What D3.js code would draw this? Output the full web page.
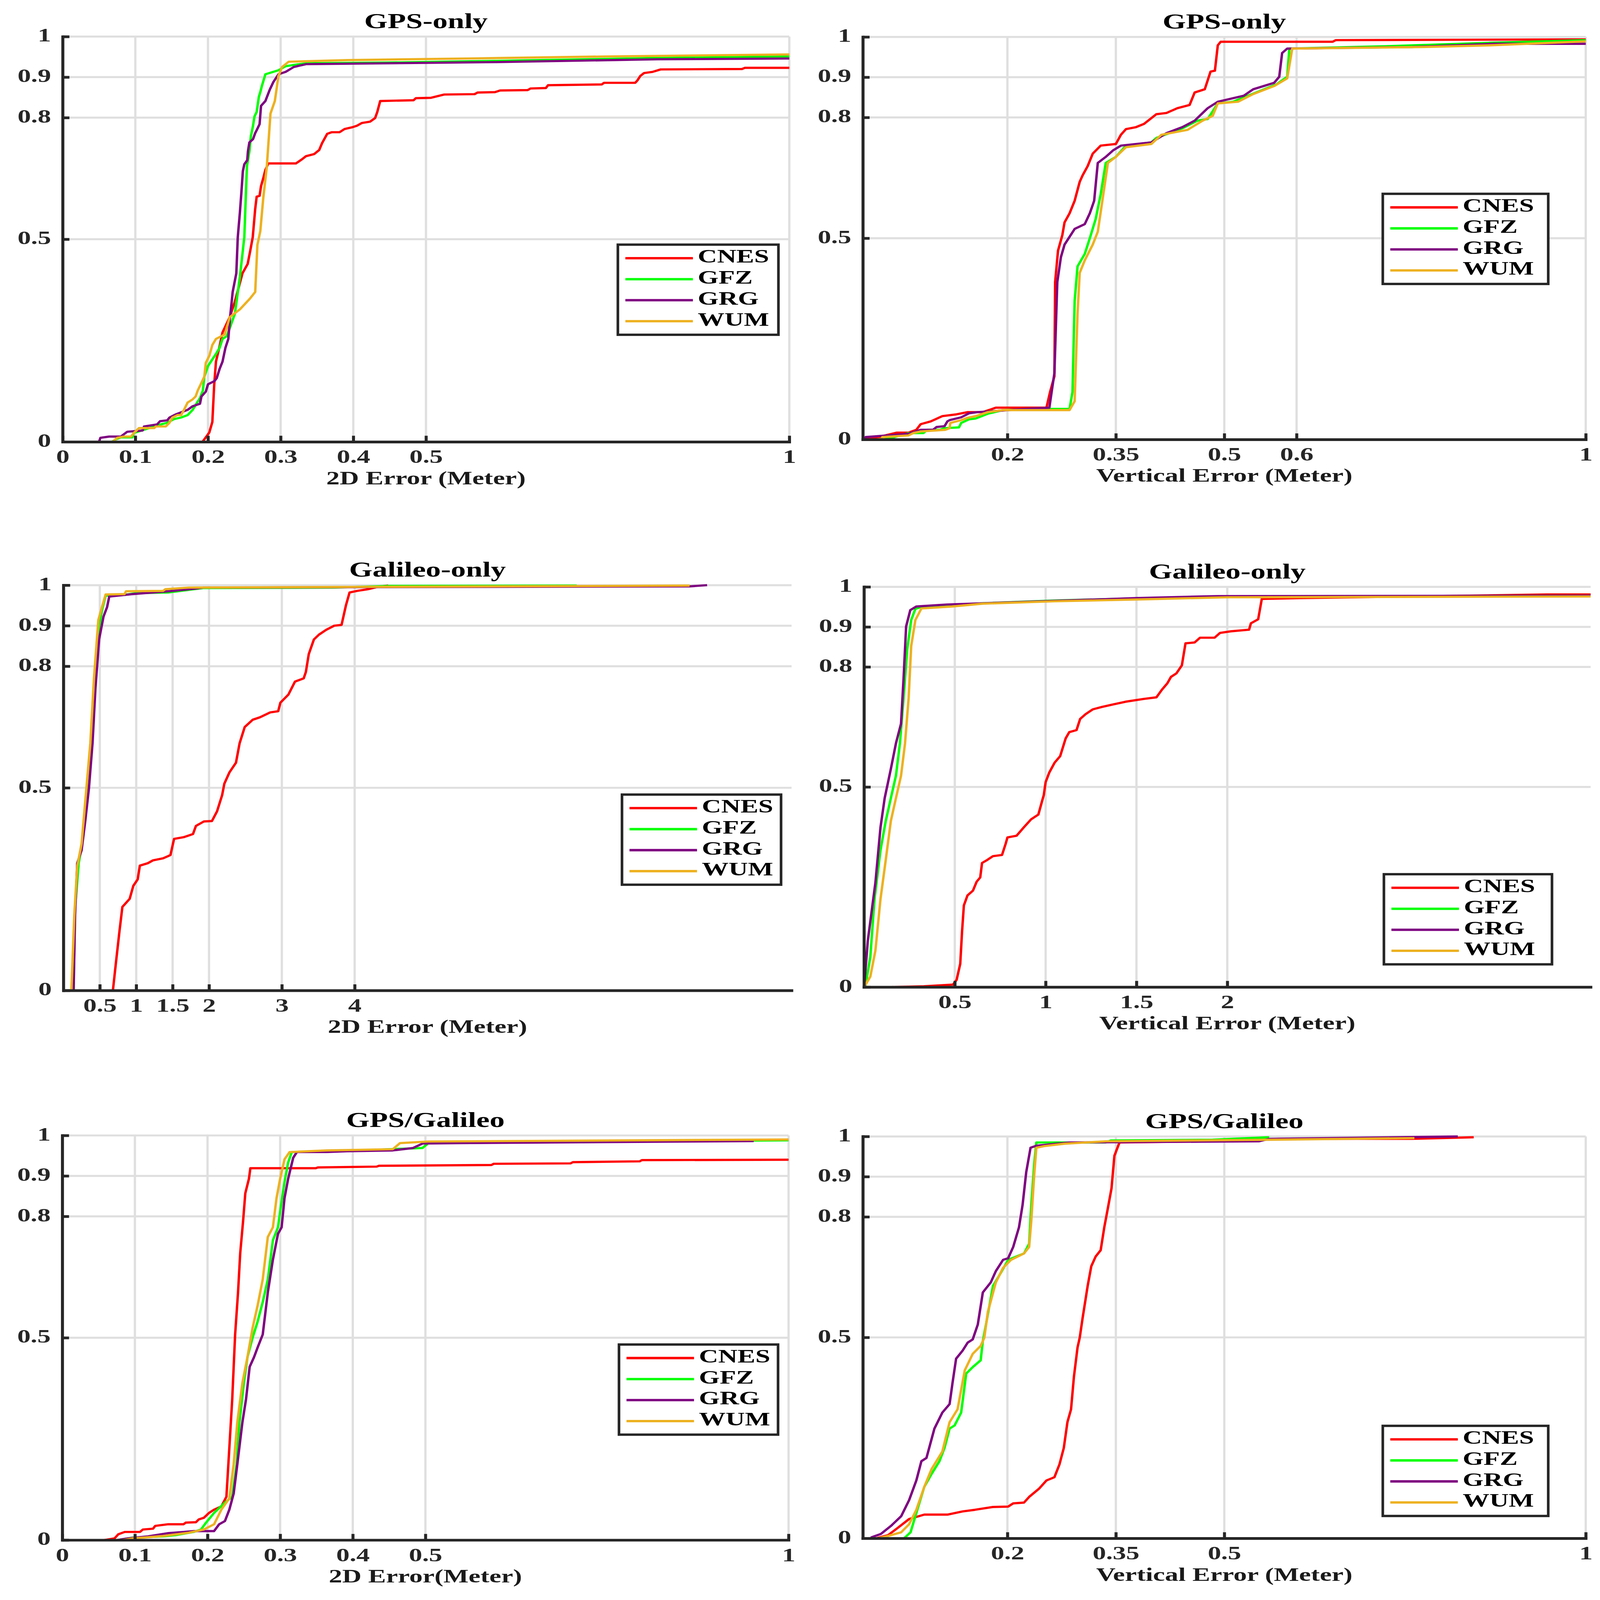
<!DOCTYPE html>
<html>
<head>
<meta charset="utf-8">
<script src="https://cdn.jsdelivr.net/npm/d3@7"></script>
<style>
  html, body { margin: 0; padding: 0; background: #ffffff; width: 100%; height: 100%; overflow: hidden; }
  svg { display: block; width: 100vw; height: 100vh; }
</style>
</head>
<body>
<svg id="chart" viewBox="0 0 4265 4722" preserveAspectRatio="none"></svg>
<script>
// ---------------- DATA ----------------
const seriesNames = ["CNES", "GFZ", "GRG", "WUM"];
const seriesColors = ["#ff0000", "#00ff00", "#7e0080", "#edb120"];
const yTicks = [0, 0.5, 0.8, 0.9, 1];
const panelTitles = ["GPS-only", "GPS-only", "Galileo-only", "Galileo-only", "GPS/Galileo", "GPS/Galileo"];
const panelXLabels = ["2D Error (Meter)", "Vertical Error (Meter)", "2D Error (Meter)", "Vertical Error (Meter)", "2D Error(Meter)", "Vertical Error (Meter)"];
const panelXDomains = [[0, 1], [0, 1], [0, 10], [0, 4], [0, 1], [0, 1]];
const panelXTicks = [
  [0, 0.1, 0.2, 0.3, 0.4, 0.5, 1],
  [0.2, 0.35, 0.5, 0.6, 1],
  [0.5, 1, 1.5, 2, 3, 4],
  [0.5, 1, 1.5, 2],
  [0, 0.1, 0.2, 0.3, 0.4, 0.5, 1],
  [0.2, 0.35, 0.5, 1]
];

// GPS-only, 2D error: [error (m), cumulative probability]
const gps2D_CNES = [[0.1925,0],[0.2018,0.023],[0.206,0.049],[0.2086,0.142],[0.211,0.198],[0.2155,0.232],[0.22,0.27],[0.23,0.308],[0.237,0.346],[0.2475,0.416],[0.2546,0.439],[0.258,0.47],[0.2616,0.505],[0.265,0.575],[0.267,0.605],[0.271,0.607],[0.273,0.631],[0.276,0.65],[0.279,0.671],[0.283,0.687],[0.321,0.687],[0.33,0.698],[0.335,0.705],[0.346,0.71],[0.353,0.72],[0.357,0.737],[0.364,0.76],[0.37,0.764],[0.381,0.764],[0.388,0.772],[0.398,0.776],[0.405,0.78],[0.412,0.787],[0.423,0.79],[0.43,0.799],[0.433,0.814],[0.437,0.841],[0.483,0.843],[0.486,0.848],[0.507,0.849],[0.525,0.857],[0.567,0.858],[0.571,0.862],[0.595,0.863],[0.602,0.867],[0.64,0.868],[0.644,0.872],[0.665,0.873],[0.668,0.88],[0.742,0.882],[0.745,0.886],[0.788,0.886],[0.791,0.892],[0.795,0.903],[0.8,0.91],[0.812,0.913],[0.823,0.919],[0.935,0.92],[0.939,0.923],[1.0,0.923]];
const gps2D_GFZ = [[0.068,0],[0.073,0.006],[0.08,0.011],[0.096,0.011],[0.098,0.022],[0.135,0.043],[0.144,0.047],[0.153,0.056],[0.163,0.06],[0.172,0.066],[0.179,0.079],[0.185,0.097],[0.189,0.108],[0.193,0.127],[0.195,0.161],[0.2,0.187],[0.204,0.198],[0.211,0.217],[0.216,0.232],[0.22,0.254],[0.226,0.261],[0.237,0.316],[0.244,0.408],[0.25,0.505],[0.2536,0.68],[0.257,0.717],[0.259,0.754],[0.262,0.78],[0.264,0.803],[0.267,0.814],[0.27,0.851],[0.272,0.863],[0.274,0.877],[0.279,0.907],[0.29,0.913],[0.297,0.917],[0.307,0.927],[0.318,0.93],[0.335,0.934],[0.447,0.936],[0.595,0.94],[0.812,0.947],[1.0,0.951]];
const gps2D_GRG = [[0.05,0],[0.052,0.01],[0.064,0.013],[0.08,0.013],[0.089,0.025],[0.11,0.028],[0.112,0.038],[0.13,0.043],[0.134,0.051],[0.144,0.053],[0.147,0.06],[0.156,0.068],[0.172,0.079],[0.179,0.088],[0.189,0.094],[0.191,0.112],[0.197,0.124],[0.2,0.142],[0.209,0.15],[0.212,0.157],[0.216,0.18],[0.22,0.198],[0.224,0.232],[0.228,0.254],[0.23,0.3],[0.234,0.37],[0.239,0.416],[0.241,0.505],[0.244,0.568],[0.246,0.616],[0.248,0.668],[0.25,0.685],[0.254,0.695],[0.255,0.717],[0.257,0.739],[0.262,0.747],[0.265,0.762],[0.267,0.769],[0.271,0.784],[0.273,0.829],[0.279,0.841],[0.285,0.869],[0.29,0.888],[0.297,0.907],[0.307,0.913],[0.318,0.925],[0.335,0.932],[0.595,0.937],[0.819,0.944],[1.0,0.946]];
const gps2D_WUM = [[0.069,0],[0.075,0.01],[0.084,0.013],[0.094,0.013],[0.098,0.022],[0.105,0.034],[0.126,0.034],[0.128,0.038],[0.142,0.038],[0.147,0.047],[0.151,0.06],[0.158,0.066],[0.163,0.066],[0.167,0.079],[0.172,0.097],[0.179,0.105],[0.183,0.112],[0.186,0.127],[0.19,0.142],[0.195,0.161],[0.197,0.195],[0.202,0.213],[0.206,0.239],[0.211,0.254],[0.223,0.265],[0.23,0.308],[0.244,0.327],[0.258,0.354],[0.265,0.37],[0.268,0.486],[0.272,0.52],[0.276,0.6],[0.281,0.68],[0.286,0.81],[0.292,0.841],[0.297,0.903],[0.302,0.925],[0.311,0.938],[0.392,0.942],[0.556,0.946],[0.749,0.951],[1.0,0.956]];

// GPS-only, vertical error
const gpsV_CNES = [[0.003,0.003],[0.018,0.003],[0.033,0.011],[0.047,0.017],[0.063,0.017],[0.074,0.024],[0.08,0.038],[0.094,0.045],[0.11,0.058],[0.128,0.062],[0.145,0.068],[0.166,0.068],[0.184,0.079],[0.254,0.079],[0.259,0.118],[0.265,0.157],[0.266,0.391],[0.27,0.469],[0.276,0.508],[0.279,0.539],[0.286,0.562],[0.293,0.593],[0.3,0.64],[0.304,0.656],[0.311,0.679],[0.318,0.71],[0.329,0.73],[0.35,0.734],[0.357,0.757],[0.364,0.771],[0.378,0.776],[0.389,0.784],[0.406,0.808],[0.42,0.811],[0.435,0.823],[0.452,0.831],[0.459,0.862],[0.473,0.87],[0.481,0.914],[0.487,0.916],[0.491,0.979],[0.495,0.988],[0.65,0.988],[0.654,0.992],[1.0,0.994]];
const gpsV_GFZ = [[0.028,0],[0.04,0.004],[0.063,0.016],[0.084,0.016],[0.089,0.024],[0.107,0.024],[0.112,0.028],[0.133,0.03],[0.136,0.041],[0.147,0.05],[0.156,0.052],[0.173,0.064],[0.194,0.073],[0.244,0.076],[0.286,0.076],[0.29,0.118],[0.293,0.344],[0.297,0.43],[0.307,0.461],[0.314,0.5],[0.322,0.547],[0.329,0.609],[0.336,0.687],[0.35,0.702],[0.364,0.73],[0.399,0.738],[0.406,0.749],[0.442,0.773],[0.463,0.792],[0.477,0.796],[0.491,0.835],[0.512,0.839],[0.544,0.862],[0.572,0.882],[0.587,0.901],[0.59,0.971],[0.724,0.977],[0.859,0.985],[1.0,0.992]];
const gpsV_GRG = [[0.004,0.003],[0.004,0.006],[0.033,0.01],[0.063,0.014],[0.08,0.024],[0.097,0.024],[0.102,0.031],[0.113,0.033],[0.117,0.045],[0.12,0.048],[0.136,0.055],[0.147,0.065],[0.159,0.068],[0.194,0.072],[0.223,0.076],[0.258,0.079],[0.265,0.165],[0.269,0.391],[0.274,0.453],[0.279,0.484],[0.293,0.523],[0.307,0.535],[0.314,0.562],[0.32,0.593],[0.325,0.687],[0.336,0.702],[0.346,0.718],[0.357,0.73],[0.399,0.738],[0.42,0.761],[0.442,0.776],[0.459,0.792],[0.477,0.823],[0.491,0.839],[0.527,0.854],[0.54,0.87],[0.569,0.886],[0.576,0.901],[0.58,0.96],[0.587,0.971],[0.76,0.975],[0.873,0.983],[1.0,0.983]];
const gpsV_WUM = [[0.018,0],[0.026,0.002],[0.027,0.006],[0.063,0.01],[0.07,0.016],[0.08,0.02],[0.114,0.024],[0.12,0.028],[0.121,0.041],[0.136,0.048],[0.145,0.054],[0.156,0.058],[0.173,0.068],[0.194,0.073],[0.286,0.073],[0.293,0.095],[0.297,0.313],[0.3,0.414],[0.307,0.445],[0.318,0.484],[0.325,0.516],[0.332,0.601],[0.339,0.687],[0.35,0.702],[0.364,0.726],[0.399,0.734],[0.413,0.757],[0.449,0.769],[0.47,0.792],[0.484,0.804],[0.491,0.835],[0.519,0.839],[0.54,0.858],[0.569,0.878],[0.587,0.897],[0.594,0.971],[0.774,0.975],[0.866,0.979],[1.0,0.989]];

// Galileo-only, 2D error
const gal2D_CNES = [[0.68,0],[0.72,0.066],[0.77,0.146],[0.81,0.206],[0.91,0.226],[0.96,0.258],[1.02,0.274],[1.05,0.308],[1.16,0.314],[1.23,0.321],[1.37,0.326],[1.47,0.334],[1.52,0.374],[1.65,0.378],[1.78,0.386],[1.82,0.406],[1.93,0.417],[2.04,0.418],[2.11,0.442],[2.18,0.482],[2.21,0.51],[2.28,0.538],[2.37,0.562],[2.42,0.61],[2.49,0.65],[2.6,0.668],[2.7,0.674],[2.84,0.686],[2.95,0.689],[2.98,0.71],[3.09,0.73],[3.18,0.762],[3.3,0.77],[3.33,0.786],[3.37,0.83],[3.44,0.866],[3.51,0.878],[3.61,0.89],[3.72,0.9],[3.82,0.902],[3.88,0.95],[3.93,0.982],[4.04,0.986],[4.18,0.99],[4.32,0.996],[4.46,0.999]];
const gal2D_GFZ = [[0.14,0],[0.16,0.202],[0.21,0.314],[0.25,0.354],[0.28,0.41],[0.33,0.514],[0.39,0.626],[0.42,0.754],[0.46,0.81],[0.49,0.898],[0.53,0.938],[0.58,0.974],[0.84,0.976],[0.98,0.98],[1.44,0.982],[1.79,0.99],[1.93,0.993],[3.72,0.994],[4.46,0.998],[7.05,0.999]];
const gal2D_GRG = [[0.14,0],[0.16,0.186],[0.19,0.314],[0.25,0.346],[0.3,0.418],[0.35,0.498],[0.4,0.61],[0.44,0.746],[0.49,0.866],[0.55,0.922],[0.6,0.946],[0.63,0.972],[0.95,0.978],[1.44,0.985],[1.72,0.99],[1.93,0.994],[8.6,0.997],[8.84,1.0]];
const gal2D_WUM = [[0.11,0],[0.15,0.186],[0.19,0.306],[0.25,0.362],[0.3,0.466],[0.37,0.61],[0.42,0.77],[0.48,0.914],[0.53,0.946],[0.58,0.977],[0.84,0.978],[0.86,0.985],[1.37,0.986],[1.4,0.99],[1.72,0.994],[8.6,0.999]];

// Galileo-only, vertical error
const galV_CNES = [[0.15,0],[0.33,0.002],[0.49,0.006],[0.51,0.018],[0.53,0.058],[0.54,0.139],[0.55,0.204],[0.57,0.229],[0.6,0.241],[0.62,0.263],[0.64,0.274],[0.65,0.31],[0.68,0.318],[0.71,0.327],[0.76,0.33],[0.78,0.358],[0.79,0.374],[0.84,0.378],[0.88,0.399],[0.92,0.419],[0.96,0.431],[0.98,0.464],[0.99,0.48],[1.0,0.512],[1.02,0.536],[1.05,0.561],[1.08,0.577],[1.11,0.621],[1.13,0.637],[1.17,0.642],[1.19,0.67],[1.22,0.682],[1.26,0.694],[1.31,0.7],[1.37,0.706],[1.44,0.713],[1.54,0.72],[1.61,0.724],[1.64,0.743],[1.67,0.759],[1.69,0.775],[1.72,0.784],[1.75,0.804],[1.77,0.859],[1.82,0.861],[1.85,0.873],[1.93,0.873],[1.96,0.885],[2.02,0.889],[2.12,0.893],[2.13,0.909],[2.17,0.919],[2.19,0.97],[2.4,0.972],[3.76,0.981],[4.0,0.981]];
const galV_GFZ = [[0.007,0],[0.035,0.075],[0.058,0.22],[0.091,0.342],[0.12,0.415],[0.148,0.472],[0.176,0.528],[0.198,0.609],[0.218,0.723],[0.238,0.844],[0.26,0.917],[0.283,0.945],[0.316,0.95],[0.485,0.955],[0.654,0.959],[1.048,0.966],[1.554,0.972],[2.0,0.976],[4.0,0.978]];
const galV_GRG = [[0.001,0],[0.021,0.115],[0.063,0.261],[0.091,0.399],[0.114,0.472],[0.148,0.545],[0.176,0.609],[0.204,0.658],[0.218,0.771],[0.232,0.901],[0.255,0.942],[0.288,0.951],[0.457,0.956],[0.851,0.962],[1.498,0.972],[1.948,0.977],[4.0,0.978]];
const galV_WUM = [[0.001,0],[0.035,0.026],[0.063,0.091],[0.091,0.22],[0.12,0.318],[0.148,0.415],[0.176,0.472],[0.204,0.528],[0.226,0.609],[0.246,0.723],[0.26,0.852],[0.283,0.917],[0.316,0.946],[0.485,0.951],[0.654,0.958],[1.048,0.964],[1.554,0.969],[2.0,0.974],[4.0,0.976]];

// GPS/Galileo, 2D error
const comb2D_CNES = [[0.058,0],[0.072,0.004],[0.077,0.014],[0.086,0.02],[0.107,0.02],[0.111,0.026],[0.125,0.028],[0.128,0.035],[0.146,0.039],[0.167,0.039],[0.17,0.043],[0.184,0.044],[0.188,0.051],[0.195,0.055],[0.202,0.067],[0.209,0.075],[0.219,0.083],[0.226,0.107],[0.23,0.227],[0.234,0.348],[0.238,0.508],[0.242,0.612],[0.245,0.709],[0.249,0.789],[0.252,0.857],[0.257,0.893],[0.259,0.919],[0.349,0.919],[0.352,0.921],[0.433,0.923],[0.436,0.925],[0.591,0.927],[0.594,0.93],[0.7,0.931],[0.703,0.934],[0.795,0.936],[0.798,0.939],[1.0,0.94]];
const comb2D_GFZ = [[0.076,0],[0.097,0.006],[0.139,0.009],[0.156,0.012],[0.181,0.02],[0.191,0.026],[0.198,0.043],[0.209,0.067],[0.223,0.091],[0.234,0.107],[0.24,0.187],[0.244,0.291],[0.25,0.388],[0.255,0.452],[0.262,0.5],[0.269,0.54],[0.276,0.588],[0.283,0.644],[0.29,0.741],[0.297,0.773],[0.302,0.837],[0.306,0.885],[0.311,0.933],[0.316,0.959],[0.377,0.961],[0.496,0.969],[0.504,0.981],[1.0,0.988]];
const comb2D_GRG = [[0.076,0],[0.09,0.004],[0.118,0.009],[0.146,0.017],[0.167,0.02],[0.181,0.022],[0.209,0.022],[0.216,0.039],[0.224,0.047],[0.23,0.075],[0.236,0.115],[0.241,0.187],[0.248,0.291],[0.253,0.348],[0.258,0.428],[0.264,0.452],[0.269,0.476],[0.276,0.508],[0.283,0.612],[0.29,0.693],[0.297,0.757],[0.302,0.773],[0.306,0.845],[0.311,0.893],[0.318,0.945],[0.323,0.959],[0.364,0.959],[0.392,0.961],[0.455,0.963],[0.483,0.969],[0.496,0.98],[0.545,0.981],[0.952,0.986]];
const comb2D_WUM = [[0.083,0],[0.097,0.004],[0.139,0.01],[0.174,0.018],[0.195,0.026],[0.209,0.039],[0.219,0.075],[0.23,0.103],[0.236,0.187],[0.241,0.291],[0.248,0.388],[0.255,0.452],[0.262,0.524],[0.269,0.58],[0.276,0.644],[0.283,0.749],[0.29,0.773],[0.295,0.845],[0.3,0.893],[0.306,0.941],[0.313,0.959],[0.364,0.963],[0.455,0.966],[0.465,0.981],[0.504,0.985],[0.896,0.989],[1.0,0.99]];

// GPS/Galileo, vertical error
const combV_CNES = [[0.018,0],[0.035,0.008],[0.049,0.027],[0.064,0.048],[0.085,0.059],[0.117,0.059],[0.138,0.067],[0.155,0.071],[0.18,0.078],[0.201,0.079],[0.208,0.087],[0.223,0.089],[0.23,0.103],[0.244,0.124],[0.254,0.144],[0.265,0.152],[0.272,0.184],[0.278,0.225],[0.283,0.289],[0.288,0.321],[0.292,0.402],[0.297,0.475],[0.3,0.499],[0.304,0.548],[0.311,0.628],[0.316,0.677],[0.322,0.701],[0.329,0.717],[0.334,0.774],[0.339,0.822],[0.344,0.871],[0.348,0.952],[0.355,0.985],[0.491,0.988],[0.576,0.994],[0.76,0.994],[0.845,0.998]];
const combV_GFZ = [[0.018,0],[0.057,0],[0.066,0.015],[0.074,0.063],[0.085,0.128],[0.095,0.16],[0.106,0.192],[0.113,0.225],[0.12,0.273],[0.127,0.281],[0.136,0.313],[0.143,0.41],[0.152,0.426],[0.163,0.443],[0.166,0.491],[0.172,0.548],[0.18,0.628],[0.191,0.661],[0.201,0.693],[0.223,0.709],[0.23,0.733],[0.233,0.83],[0.237,0.931],[0.24,0.985],[0.336,0.985],[0.343,0.99],[0.484,0.992],[0.562,0.998]];
const combV_GRG = [[0.011,0.002],[0.025,0.011],[0.039,0.031],[0.053,0.055],[0.064,0.095],[0.074,0.144],[0.081,0.192],[0.088,0.2],[0.099,0.273],[0.11,0.313],[0.12,0.334],[0.124,0.386],[0.129,0.447],[0.138,0.467],[0.145,0.487],[0.152,0.495],[0.159,0.532],[0.166,0.612],[0.177,0.637],[0.184,0.665],[0.194,0.693],[0.201,0.697],[0.208,0.725],[0.216,0.774],[0.221,0.83],[0.226,0.911],[0.232,0.972],[0.24,0.977],[0.286,0.985],[0.548,0.988],[0.562,0.994],[0.823,1.0]];
const combV_WUM = [[0.021,0],[0.035,0.006],[0.053,0.015],[0.064,0.035],[0.074,0.071],[0.085,0.128],[0.095,0.172],[0.11,0.216],[0.12,0.289],[0.131,0.321],[0.141,0.418],[0.152,0.459],[0.163,0.479],[0.168,0.499],[0.173,0.564],[0.184,0.637],[0.194,0.673],[0.205,0.693],[0.223,0.709],[0.23,0.725],[0.233,0.79],[0.237,0.903],[0.24,0.972],[0.251,0.976],[0.279,0.982],[0.336,0.988],[0.569,0.992],[0.763,0.996]];

// ---------------- LAYOUT ----------------
const FONT = "'Liberation Serif', 'Times New Roman', serif";
const SX = 1.25; // horizontal stretch of the original figure's text

const panels = [
  { idx: 0, series: [gps2D_CNES, gps2D_GFZ, gps2D_GRG, gps2D_WUM], L: 167, R: 2104, T: 108, B: 1304, leg: [1647, 722, 428] },
  { idx: 1, series: [gpsV_CNES, gpsV_GFZ, gpsV_GRG, gpsV_WUM], L: 2300, R: 4227, T: 109, B: 1297, leg: [3686, 572, 441] },
  { idx: 2, series: [gal2D_CNES, gal2D_GFZ, gal2D_GRG, gal2D_WUM], L: 169, R: 2110, T: 1727, B: 2923, leg: [1658, 2345, 424] },
  { idx: 3, series: [galV_CNES, galV_GFZ, galV_GRG, galV_WUM], L: 2303, R: 4240, T: 1732, B: 2913, leg: [3689, 2580, 448] },
  { idx: 4, series: [comb2D_CNES, comb2D_GFZ, comb2D_GRG, comb2D_WUM], L: 166, R: 2102, T: 3351, B: 4545, leg: [1650, 3968, 424] },
  { idx: 5, series: [combV_CNES, combV_GFZ, combV_GRG, combV_WUM], L: 2300, R: 4227, T: 3354, B: 4540, leg: [3686, 4208, 441] }
];

const svg = d3.select("#chart");
svg.append("rect").attr("width", 4265).attr("height", 4722).attr("fill", "#ffffff");

function stretchedText(sel, x, y, txt, size, anchor, color) {
  return sel.append("text")
    .attr("transform", `translate(${x},${y}) scale(${SX},1)`)
    .attr("text-anchor", anchor)
    .attr("font-family", FONT)
    .attr("font-weight", "bold")
    .attr("font-size", size)
    .attr("fill", color)
    .text(txt);
}

panels.forEach(p => {
  const i = p.idx;
  const g = svg.append("g");
  const x = d3.scaleLinear().domain(panelXDomains[i]).range([p.L, p.R]);
  const y = d3.scaleLinear().domain([0, 1]).range([p.B, p.T]);

  // grid lines
  const vTicks = panelXTicks[i].filter(t => t > panelXDomains[i][0]);
  g.append("g").selectAll("line").data(vTicks).join("line")
    .attr("x1", d => x(d)).attr("x2", d => x(d))
    .attr("y1", y(0)).attr("y2", y(1))
    .attr("stroke", "#dfdfdf").attr("stroke-width", 6);
  g.append("g").selectAll("line").data(yTicks.filter(t => t > 0)).join("line")
    .attr("x1", x(panelXDomains[i][0])).attr("x2", x(panelXDomains[i][1]))
    .attr("y1", d => y(d)).attr("y2", d => y(d))
    .attr("stroke", "#dfdfdf").attr("stroke-width", 6);

  // curves
  const line = d3.line().x(d => x(d[0])).y(d => y(d[1])).curve(d3.curveLinear);
  p.series.forEach((s, k) => {
    g.append("path").datum(s)
      .attr("d", line)
      .attr("fill", "none")
      .attr("stroke", seriesColors[k])
      .attr("stroke-width", 6.5)
      .attr("stroke-linejoin", "round")
      .attr("stroke-linecap", "butt");
  });

  // axes
  const xAxis = d3.axisBottom(x).tickValues(panelXTicks[i]).tickSizeInner(-18).tickSizeOuter(0)
    .tickPadding(22).tickFormat(d => String(d));
  const xa = g.append("g").attr("transform", `translate(0,${p.B})`).call(xAxis);
  xa.select(".domain").attr("stroke", "#262626").attr("stroke-width", 8).attr("stroke-linecap", "square");
  xa.selectAll(".tick line").attr("stroke", "#262626").attr("stroke-width", 8);
  xa.selectAll(".tick text")
    .attr("font-family", FONT).attr("font-weight", "bold").attr("font-size", 57)
    .attr("fill", "#262626").attr("transform", `scale(${SX},1)`);

  const yAxis = d3.axisLeft(y).tickValues(yTicks).tickSizeInner(-18).tickSizeOuter(0)
    .tickPadding(31).tickFormat(d => String(d));
  const ya = g.append("g").attr("transform", `translate(${p.L},0)`).call(yAxis);
  ya.select(".domain").attr("stroke", "#262626").attr("stroke-width", 8).attr("stroke-linecap", "square");
  ya.selectAll(".tick line").attr("stroke", "#262626").attr("stroke-width", 8);
  ya.selectAll(".tick text")
    .attr("font-family", FONT).attr("font-weight", "bold").attr("font-size", 57)
    .attr("fill", "#262626").attr("x", -31 / SX).attr("dy", "0.25em")
    .attr("transform", `scale(${SX},1)`);

  // title and x label
  const cx = (p.L + p.R) / 2;
  stretchedText(g, cx, p.T - 25, panelTitles[i], 64, "middle", "#000000");
  stretchedText(g, cx, p.B + 125, panelXLabels[i], 57, "middle", "#1a1a1a");

  // legend
  const [lx, ly, lw] = p.leg;
  const lh = 266;
  const lg = g.append("g");
  lg.append("rect").attr("x", lx).attr("y", ly).attr("width", lw).attr("height", lh)
    .attr("fill", "#ffffff").attr("stroke", "#262626").attr("stroke-width", 7);
  seriesNames.forEach((nm, k) => {
    const yy = ly + 40 + k * 62;
    lg.append("line").attr("x1", lx + 20).attr("x2", lx + 200).attr("y1", yy).attr("y2", yy)
      .attr("stroke", seriesColors[k]).attr("stroke-width", 7);
    stretchedText(lg, lx + 213, yy + 13, nm, 57, "start", "#000000");
  });
});
</script>
</body>
</html>
